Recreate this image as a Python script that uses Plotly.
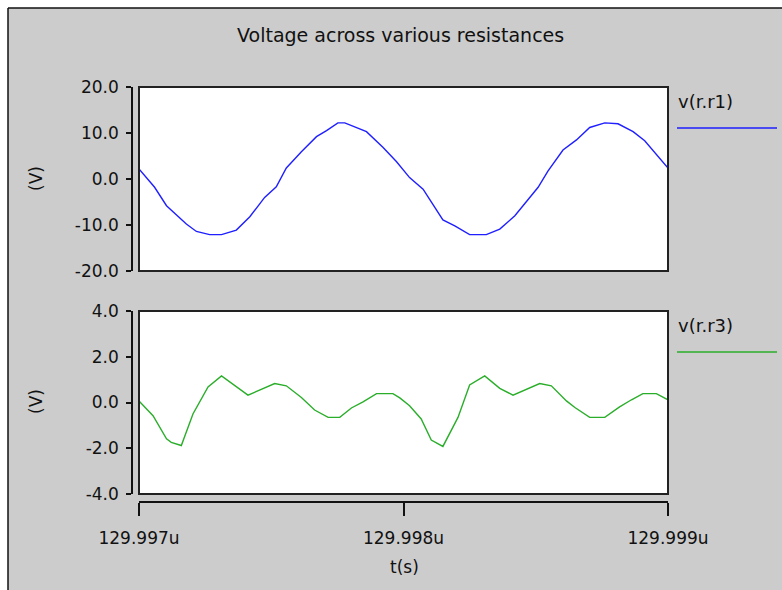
import plotly.graph_objects as go

# ---- data -----------------------------------------------------------------
# transient samples, time in microseconds
t_r1 = [129.997000, 129.997059, 129.997104, 129.997179, 129.997217, 129.997267,
        129.997312, 129.997368, 129.997419, 129.997475, 129.997519, 129.997557,
        129.997614, 129.997671, 129.997709, 129.997752, 129.997778, 129.997860,
        129.997922, 129.997973, 129.998023, 129.998074, 129.998149, 129.998194,
        129.998250, 129.998313, 129.998364, 129.998421, 129.998509, 129.998546,
        129.998603, 129.998654, 129.998704, 129.998761, 129.998811, 129.998868,
        129.998912, 129.998950, 129.999000]
v_r1 = [2.2, -1.8, -5.8, -9.8, -11.4, -12.1, -12.1, -11.1, -8.2, -4.0, -1.7, 2.4,
        5.9, 9.2, 10.5, 12.2, 12.2, 10.3, 6.9, 3.8, 0.3, -2.2, -8.9, -10.2,
        -12.1, -12.1, -10.9, -8.0, -1.8, 1.7, 6.3, 8.5, 11.2, 12.2, 12.0, 10.3,
        8.3, 5.8, 2.4]

t_r3 = [129.997000, 129.997053, 129.997104, 129.997122, 129.997160, 129.997204,
        129.997261, 129.997312, 129.997412, 129.997463, 129.997513, 129.997557,
        129.997614, 129.997664, 129.997715, 129.997759, 129.997803, 129.997847,
        129.997898, 129.997960, 129.997986, 129.998023, 129.998067, 129.998105,
        129.998149, 129.998206, 129.998250, 129.998307, 129.998364, 129.998414,
        129.998465, 129.998515, 129.998559, 129.998616, 129.998648, 129.998704,
        129.998761, 129.998817, 129.998862, 129.998905, 129.998956, 129.999000]
v_r3 = [0.07, -0.58, -1.59, -1.74, -1.88, -0.50, 0.68, 1.16, 0.32, 0.58, 0.83,
        0.73, 0.22, -0.33, -0.65, -0.65, -0.24, 0.03, 0.39, 0.39, 0.20, -0.14,
        -0.72, -1.64, -1.92, -0.65, 0.77, 1.16, 0.62, 0.32, 0.58, 0.83, 0.73,
        0.07, -0.22, -0.65, -0.65, -0.19, 0.12, 0.39, 0.39, 0.12]

series_names = ["v(r.r1)", "v(r.r3)"]

t_ticks = [129.997, 129.998, 129.999]
t_ticktext = ["129.997u", "129.998u", "129.999u"]
v1_ticks = [-20, -10, 0, 10, 20]
v1_ticktext = ["-20.0", "-10.0", "0.0", "10.0", "20.0"]
v3_ticks = [-4, -2, 0, 2, 4]
v3_ticktext = ["-4.0", "-2.0", "0.0", "2.0", "4.0"]

# ---- page geometry (pixels) -------------------------------------------------
W, H = 782, 590
FONT = "DejaVu Sans"
BLUE = "#1f1fff"
GREEN = "#2aae2a"


def px_x(x):
    return x / W


def px_y(y):
    return 1 - y / H


plot_x = [px_x(139), px_x(668)]
top_y = [px_y(271), px_y(87)]
bot_y = [px_y(494), px_y(311)]
axis_x_pos = px_x(132)
taxis_y_pos = px_y(502)

fig = go.Figure()
fig.add_trace(go.Scatter(x=t_r1, y=v_r1, mode="lines", name=series_names[0],
                         line=dict(color=BLUE, width=1.4), xaxis="x", yaxis="y"))
fig.add_trace(go.Scatter(x=t_r3, y=v_r3, mode="lines", name=series_names[1],
                         line=dict(color=GREEN, width=1.4), xaxis="x2", yaxis="y2"))

tickfont = dict(family=FONT, size=17, color="#111")
yaxis_common = dict(anchor="free", position=axis_x_pos, side="left",
                    showline=True, linecolor="#111", linewidth=1.5,
                    ticks="outside", ticklen=5, tickwidth=1.5, tickcolor="#111",
                    showgrid=False, zeroline=False, tickfont=tickfont,
                    ticklabelstandoff=4, automargin=False, fixedrange=True)

fig.update_layout(
    width=W, height=H,
    margin=dict(l=0, r=0, t=0, b=0, pad=0, autoexpand=False),
    paper_bgcolor="#cccccc",
    plot_bgcolor="white",
    showlegend=False,
    xaxis=dict(domain=plot_x, range=[t_ticks[0], t_ticks[-1]], anchor="y",
               visible=False, automargin=False),
    yaxis=dict(domain=top_y, range=[-20, 20], tickvals=v1_ticks,
               ticktext=v1_ticktext, **yaxis_common),
    xaxis2=dict(domain=plot_x, range=[t_ticks[0], t_ticks[-1]], anchor="free",
                position=taxis_y_pos, side="bottom", showline=True,
                linecolor="#111", linewidth=1.5, ticks="outside", ticklen=13,
                tickwidth=1.5, tickcolor="#111", tickvals=t_ticks,
                ticktext=t_ticktext, showgrid=False, zeroline=False,
                tickfont=tickfont, ticklabelstandoff=8, automargin=False),
    yaxis2=dict(domain=bot_y, range=[-4, 4], tickvals=v3_ticks,
                ticktext=v3_ticktext, **yaxis_common),
)

shapes = []
# white margin strip and the panel edges
shapes.append(dict(type="rect", xref="paper", yref="paper", x0=0, x1=px_x(8),
                   y0=0, y1=1, fillcolor="white", line=dict(width=0), layer="below"))
shapes.append(dict(type="rect", xref="paper", yref="paper", x0=0, x1=1,
                   y0=px_y(8), y1=1, fillcolor="white", line=dict(width=0), layer="below"))
shapes.append(dict(type="line", xref="paper", yref="paper", x0=px_x(8), x1=px_x(8),
                   y0=0, y1=px_y(8), line=dict(color="#111", width=1.5)))
shapes.append(dict(type="line", xref="paper", yref="paper", x0=px_x(8), x1=1,
                   y0=px_y(8), y1=px_y(8), line=dict(color="#111", width=1.5)))
# plot frames
for xr, yr in (("x domain", "y domain"), ("x2 domain", "y2 domain")):
    shapes.append(dict(type="rect", xref=xr, yref=yr, x0=0, x1=1, y0=0, y1=1,
                       line=dict(color="#222", width=2), layer="above"))
# legend line samples
for ly, col in ((128, BLUE), (352, GREEN)):
    shapes.append(dict(type="line", xref="paper", yref="paper", x0=px_x(677),
                       x1=px_x(777), y0=px_y(ly), y1=px_y(ly),
                       line=dict(color=col, width=1.5)))
fig.update_layout(shapes=shapes)

annotations = [
    dict(text="Voltage across various resistances", x=px_x(400), y=px_y(35),
         font=dict(family=FONT, size=19, color="#111")),
    dict(text="t(s)", x=px_x(404), y=px_y(567),
         font=dict(family=FONT, size=17, color="#111")),
    dict(text="(V)", x=px_x(36), y=px_y(179), textangle=-90,
         font=dict(family=FONT, size=17, color="#111")),
    dict(text="(V)", x=px_x(36), y=px_y(402), textangle=-90,
         font=dict(family=FONT, size=17, color="#111")),
    dict(text=series_names[0], x=px_x(676), y=px_y(102), xanchor="left",
         font=dict(family=FONT, size=18, color="#111")),
    dict(text=series_names[1], x=px_x(676), y=px_y(325), xanchor="left",
         font=dict(family=FONT, size=18, color="#111")),
]
for a in annotations:
    a.setdefault("xanchor", "center")
    a.update(xref="paper", yref="paper", yanchor="middle", showarrow=False)
fig.update_layout(annotations=annotations)

fig.write_html("out.html")
